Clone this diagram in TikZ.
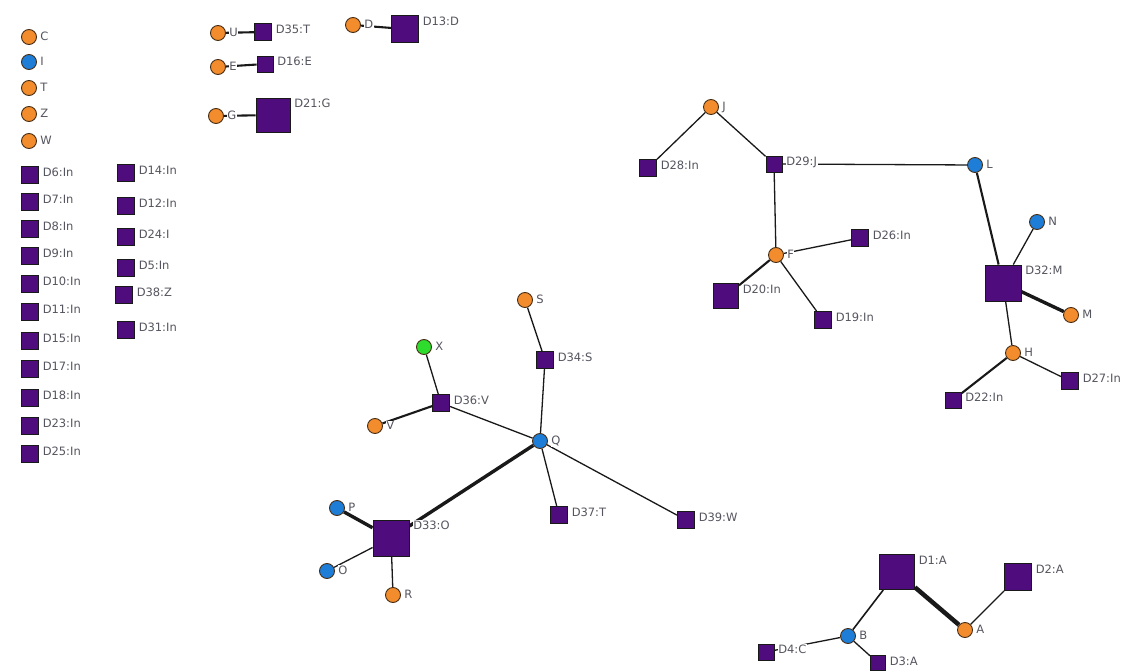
\documentclass[tikz,border=0pt]{standalone}
\usepackage{fontspec}
\setmainfont{DejaVu Sans}
\usepackage{xcolor}
\usepackage{tikz}
\usetikzlibrary{backgrounds}

\definecolor{actorange}{RGB}{242,140,45}
\definecolor{actblue}{RGB}{30,125,215}
\definecolor{actgreen}{RGB}{45,220,45}
\definecolor{docpurple}{RGB}{78,12,125}
\definecolor{rimbrown}{RGB}{70,45,20}
\definecolor{tagtext}{RGB}{85,85,95}

\tikzset{
    tag/.style={fill=white, inner sep=0.6pt, text=tagtext},
    actor/.style 2 args={circle, fill=#1, draw=rimbrown, line width=0.9pt,
        minimum size=15pt, inner sep=0pt,
        label={[tag, anchor=base west, xshift=2.5pt, yshift=-3.5pt]east:#2}},
    doc/.style 2 args={rectangle, fill=docpurple, draw=black!90, line width=0.9pt,
        minimum size=#1, inner sep=0pt,
        label={[tag, anchor=base west, xshift=3pt, yshift=-10pt]north east:#2}},
    link/.style={draw=black!90, line width=1.3pt},
    midlink/.style={link, line width=2.1pt},
    heavylink/.style={link, line width=3.4pt}
}

\begin{document}
\begin{tikzpicture}[x=1pt, y=-1pt, font=\fontsize{11.5}{13}\selectfont]
    \useasboundingbox (0,0) rectangle (1127,671);

    % Unlinked actors
    \node[actor={actorange}{C}] (C) at (29,37) {};
    \node[actor={actblue}{I}] (I) at (29,62) {};
    \node[actor={actorange}{T}] (T) at (29,88) {};
    \node[actor={actorange}{Z}] (Z) at (29,114) {};
    \node[actor={actorange}{W}] (W) at (29,141) {};

    % Unlinked documents, first column
    \node[doc={17pt}{D6:In}] (d6) at (30,175) {};
    \node[doc={17pt}{D7:In}] (d7) at (30,202) {};
    \node[doc={17pt}{D8:In}] (d8) at (30,229) {};
    \node[doc={17pt}{D9:In}] (d9) at (30,256) {};
    \node[doc={17pt}{D10:In}] (d10) at (30,284) {};
    \node[doc={17pt}{D11:In}] (d11) at (30,312) {};
    \node[doc={17pt}{D15:In}] (d15) at (30,341) {};
    \node[doc={17pt}{D17:In}] (d17) at (30,369) {};
    \node[doc={17pt}{D18:In}] (d18) at (30,398) {};
    \node[doc={17pt}{D23:In}] (d23) at (30,426) {};
    \node[doc={17pt}{D25:In}] (d25) at (30,454) {};

    % Unlinked documents, second column
    \node[doc={17pt}{D14:In}] (d14) at (126,173) {};
    \node[doc={17pt}{D12:In}] (d12) at (126,206) {};
    \node[doc={17pt}{D24:I}] (d24) at (126,237) {};
    \node[doc={17pt}{D5:In}] (d5) at (126,268) {};
    \node[doc={17pt}{D38:Z}] (d38) at (124,295) {};
    \node[doc={17pt}{D31:In}] (d31) at (126,330) {};

    % Pairs at the top
    \node[actor={actorange}{U}] (U) at (218,33) {};
    \node[doc={17pt}{D35:T}] (d35) at (263,32) {};
    \node[actor={actorange}{E}] (E) at (218,67) {};
    \node[doc={16pt}{D16:E}] (d16) at (265,64) {};
    \node[actor={actorange}{G}] (G) at (216,116) {};
    \node[doc={34pt}{D21:G}] (d21) at (273,115) {};
    \node[actor={actorange}{D}] (D) at (353,25) {};
    \node[doc={27pt}{D13:D}] (d13) at (405,29) {};

    % Cluster round J and L
    \node[actor={actorange}{J}] (J) at (711,107) {};
    \node[doc={17pt}{D28:In}] (d28) at (648,168) {};
    \node[doc={16pt}{D29:J}] (d29) at (774,164) {};
    \node[actor={actorange}{F}] (F) at (776,255) {};
    \node[doc={17pt}{D26:In}] (d26) at (860,238) {};
    \node[doc={25pt}{D20:In}] (d20) at (726,296) {};
    \node[doc={17pt}{D19:In}] (d19) at (823,320) {};
    \node[actor={actblue}{L}] (L) at (975,165) {};
    \node[actor={actblue}{N}] (N) at (1037,222) {};
    \node[doc={36pt}{D32:M}] (d32) at (1003,283) {};
    \node[actor={actorange}{M}] (M) at (1071,315) {};
    \node[actor={actorange}{H}] (H) at (1013,353) {};
    \node[doc={16pt}{D22:In}] (d22) at (953,400) {};
    \node[doc={17pt}{D27:In}] (d27) at (1070,381) {};

    % Cluster round Q
    \node[actor={actorange}{S}] (S) at (525,300) {};
    \node[doc={17pt}{D34:S}] (d34) at (545,360) {};
    \node[actor={actgreen}{X}] (X) at (424,347) {};
    \node[doc={17pt}{D36:V}] (d36) at (441,403) {};
    \node[actor={actorange}{V}] (V) at (375,426) {};
    \node[actor={actblue}{Q}] (Q) at (540,441) {};
    \node[doc={17pt}{D37:T}] (d37) at (559,515) {};
    \node[doc={17pt}{D39:W}] (d39) at (686,520) {};
    \node[doc={36pt}{D33:O}] (d33) at (391,538) {};
    \node[actor={actblue}{P}] (P) at (337,508) {};
    \node[actor={actblue}{O}] (O) at (327,571) {};
    \node[actor={actorange}{R}] (R) at (393,595) {};

    % Cluster round A and B
    \node[doc={35pt}{D1:A}] (d1) at (897,572) {};
    \node[doc={27pt}{D2:A}] (d2) at (1018,577) {};
    \node[actor={actorange}{A}] (A) at (965,630) {};
    \node[actor={actblue}{B}] (B) at (848,636) {};
    \node[doc={16pt}{D4:C}] (d4) at (766,652) {};
    \node[doc={15pt}{D3:A}] (d3) at (878,663) {};

    % Links behind the nodes
    \begin{scope}[on background layer]
        \fill[white] (0,0) rectangle (1127,671);

        \draw[midlink] (U) -- (d35);
        \draw[midlink] (E) -- (d16);
        \draw[midlink] (G) -- (d21);
        \draw[midlink] (D) -- (d13);

        \draw[link] (J) -- (d28);
        \draw[link] (J) -- (d29);
        \draw[link] (d29) -- (L);
        \draw[link] (d29) -- (F);
        \draw[link] (F) -- (d26);
        \draw[midlink] (F) -- (d20);
        \draw[link] (F) -- (d19);
        \draw[midlink] (L) -- (d32);
        \draw[link] (N) -- (d32);
        \draw[heavylink] (d32) -- (M);
        \draw[link] (d32) -- (H);
        \draw[midlink] (H) -- (d22);
        \draw[link] (H) -- (d27);

        \draw[link] (S) -- (d34);
        \draw[link] (d34) -- (Q);
        \draw[link] (X) -- (d36);
        \draw[midlink] (V) -- (d36);
        \draw[link] (d36) -- (Q);
        \draw[heavylink] (Q) -- (d33);
        \draw[link] (Q) -- (d37);
        \draw[link] (Q) -- (d39);
        \draw[heavylink] (P) -- (d33);
        \draw[link] (O) -- (d33);
        \draw[link] (R) -- (d33);

        \draw[midlink, line width=1.6pt] (d1) -- (B);
        \draw[heavylink, line width=4.5pt] (d1) -- (A);
        \draw[link] (A) -- (d2);
        \draw[link] (B) -- (d4);
        \draw[link] (B) -- (d3);
    \end{scope}
\end{tikzpicture}
\end{document}
